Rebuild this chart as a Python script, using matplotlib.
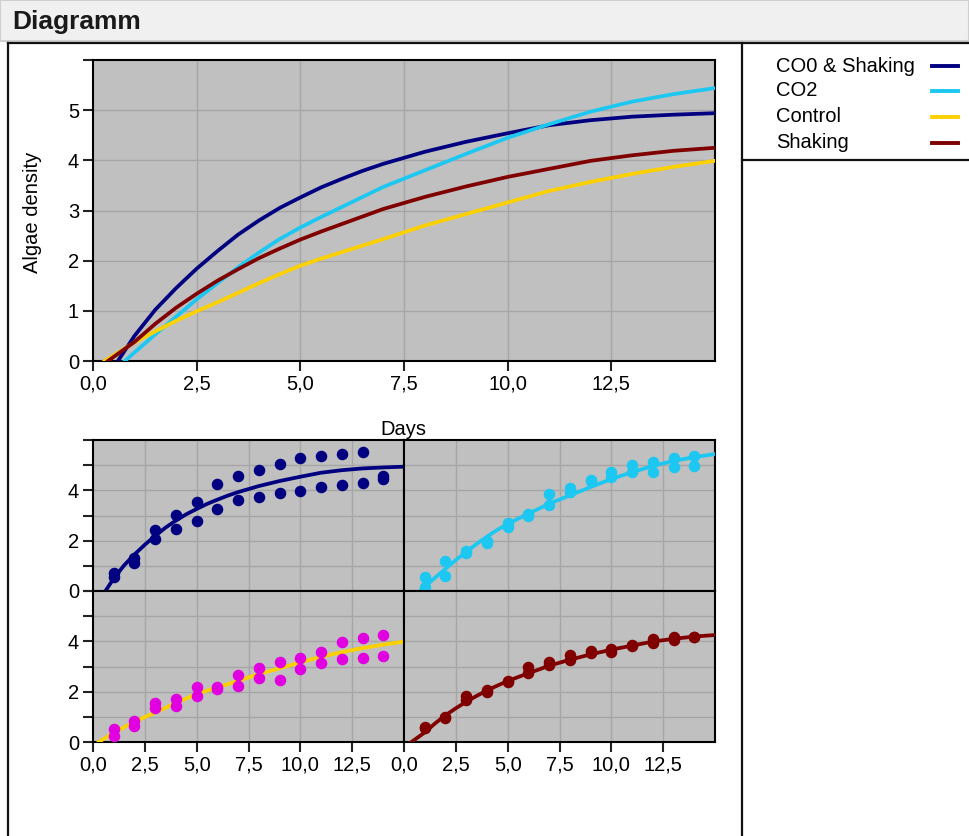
import matplotlib
matplotlib.use("Agg")
import matplotlib.pyplot as plt
from matplotlib.lines import Line2D
from matplotlib.patches import Rectangle
from matplotlib.ticker import FuncFormatter, MultipleLocator

plt.rcParams['font.family'] = ['Liberation Sans', 'DejaVu Sans']

# series names and colours
names = ["CO0 & Shaking", "CO2", "Control", "Shaking"]
line_colors = ["#000080", "#1cc8f2", "#fdd000", "#800000"]
dot_colors = ["#000080", "#1cc8f2", "#e000e0", "#800000"]

# fitted curves (days, density)
days_tail = [1, 1.5, 2, 2.5, 3, 3.5, 4, 4.5, 5, 5.5, 6, 6.5, 7, 8, 9, 10, 11, 12, 13, 14, 15]
curve_days = {
    "CO0 & Shaking": [0.60] + days_tail,
    "CO2": [0.77] + days_tail,
    "Control": [0.28] + days_tail,
    "Shaking": [0.36] + days_tail,
}
curve_vals = {
    "CO0 & Shaking": [0, 0.50, 1.02, 1.45, 1.84, 2.19, 2.52, 2.80, 3.05, 3.26, 3.46, 3.63, 3.79,
                      3.93, 4.17, 4.37, 4.54, 4.70, 4.80, 4.87, 4.91, 4.94],
    "CO2": [0, 0.17, 0.53, 0.88, 1.23, 1.55, 1.87, 2.16, 2.43, 2.66, 2.87, 3.07, 3.27,
            3.47, 3.80, 4.13, 4.45, 4.72, 4.97, 5.17, 5.32, 5.44],
    "Control": [0, 0.37, 0.59, 0.80, 0.99, 1.17, 1.36, 1.55, 1.73, 1.90, 2.04, 2.17, 2.30,
                2.43, 2.70, 2.93, 3.16, 3.39, 3.57, 3.73, 3.87, 3.99],
    "Shaking": [0, 0.38, 0.74, 1.06, 1.34, 1.60, 1.83, 2.05, 2.24, 2.42, 2.58, 2.73, 2.88,
                3.03, 3.27, 3.48, 3.67, 3.83, 3.99, 4.10, 4.19, 4.25],
}

# measured points, two replicates per day
obs_days = list(range(1, 15))
obs_a = {
    "CO0 & Shaking": [0.71, 1.31, 2.44, 3.01, 3.53, 4.24, 4.55, 4.80, 5.04, 5.27, 5.37, 5.44, 5.53, 4.57],
    "CO2": [0.57, 1.20, 1.60, 1.97, 2.71, 3.04, 3.87, 4.08, 4.40, 4.73, 5.00, 5.13, 5.27, 5.37],
    "Control": [0.51, 0.82, 1.54, 1.70, 2.17, 2.17, 2.66, 2.95, 3.18, 3.34, 3.58, 3.97, 4.13, 4.24],
    "Shaking": [0.60, 0.99, 1.84, 2.05, 2.44, 2.97, 3.16, 3.46, 3.62, 3.69, 3.86, 4.08, 4.19, 4.19],
}
obs_b = {
    "CO0 & Shaking": [0.57, 1.11, 2.07, 2.47, 2.77, 3.27, 3.60, 3.73, 3.91, 3.97, 4.15, 4.20, 4.28, 4.44],
    "CO2": [0.17, 0.61, 1.51, 1.91, 2.53, 3.00, 3.40, 3.93, 4.37, 4.51, 4.71, 4.73, 4.91, 4.97],
    "Control": [0.22, 0.62, 1.34, 1.43, 1.83, 2.10, 2.22, 2.53, 2.46, 2.92, 3.12, 3.28, 3.34, 3.42],
    "Shaking": [0.55, 0.95, 1.68, 2.00, 2.40, 2.76, 3.06, 3.26, 3.55, 3.59, 3.82, 3.92, 4.06, 4.16],
}

x_ticks = [0, 2.5, 5, 7.5, 10, 12.5]

W, H = 969, 836
fig = plt.figure(figsize=(W / 100, H / 100), dpi=100)
fig.patch.set_facecolor("white")
FS = 14.5


def box(l, t, r, b):
    # pixel box -> figure fraction rect
    return [l / W, 1 - b / H, (r - l) / W, (b - t) / H]


def comma(v, pos):
    return f"{v:.1f}".replace(".", ",")


def style_ax(ax, show_x, show_y, y_major):
    ax.set_facecolor("#c0c0c0")
    ax.set_xlim(0, 15)
    ax.set_ylim(0, 6)
    ax.set_xticks(x_ticks)
    ax.xaxis.set_major_formatter(FuncFormatter(comma))
    ax.yaxis.set_major_locator(MultipleLocator(y_major))
    ax.yaxis.set_minor_locator(MultipleLocator(1))
    ax.yaxis.set_major_formatter(FuncFormatter(lambda v, p: f"{v:g}" if v < 5.9 else ""))
    # grid every 2.5 days and every unit
    for gx in x_ticks[1:]:
        ax.axvline(gx, color="#a6a6a6", lw=1.0, zorder=0.5)
    for gy in range(1, 6):
        ax.axhline(gy, color="#a6a6a6", lw=1.0, zorder=0.5)
    for s in ax.spines.values():
        s.set_color("black")
        s.set_linewidth(1.5)
    ax.tick_params(axis="both", which="both", direction="out", length=7, width=1.5,
                   color="#222222", labelsize=FS, pad=3)
    if not show_x:
        ax.tick_params(axis="x", which="both", length=0, labelbottom=False)
    if not show_y:
        ax.tick_params(axis="y", which="both", length=0, labelleft=False)


# main plot
ax = fig.add_axes(box(93, 60, 715, 361))
style_ax(ax, True, True, 1)
ax.tick_params(axis="y", which="minor", length=0)
for n, c in zip(names, line_colors):
    ax.plot(curve_days[n], curve_vals[n], color=c, lw=2.7, solid_joinstyle="round", zorder=3)

fig.text(33 / W, 1 - 212 / H, "Algae density", rotation=90, ha="center", va="center", fontsize=FS)
fig.text(403 / W, 1 - 430 / H, "Days", ha="center", va="center", fontsize=FS)

# small panels
panel_boxes = [box(93, 440, 404, 591), box(404, 440, 715, 591),
               box(93, 591, 404, 742), box(404, 591, 715, 742)]
for i, n in enumerate(names):
    pax = fig.add_axes(panel_boxes[i])
    style_ax(pax, i >= 2, i % 2 == 0, 2)
    pax.plot(curve_days[n], curve_vals[n], color=line_colors[i], lw=2.7,
             solid_joinstyle="round", zorder=3)
    pax.plot(obs_days, obs_a[n], "o", color=dot_colors[i], ms=7.3, zorder=4, clip_on=False)
    pax.plot(obs_days, obs_b[n], "o", color=dot_colors[i], ms=7.3, zorder=4, clip_on=False)

# header bar and frame
fig.add_artist(Rectangle((0, 1 - 41 / H), 1, 41 / H, transform=fig.transFigure,
                         facecolor="#f0f0f0", edgecolor="#cfcfcf", lw=1.5))
fig.text(12 / W, 1 - 22 / H, "Diagramm", fontsize=19, fontweight="bold",
         ha="left", va="center", color="#1a1a1a")
frame_kw = dict(transform=fig.transFigure, color="#111111", lw=1.6)
fig.add_artist(Line2D([8 / W, 1], [1 - 43 / H, 1 - 43 / H], **frame_kw))
fig.add_artist(Line2D([8 / W, 8 / W], [1 - 43 / H, 0], **frame_kw))
fig.add_artist(Line2D([742 / W, 742 / W], [1 - 43 / H, 0], **frame_kw))
fig.add_artist(Line2D([742 / W, 1], [1 - 160 / H, 1 - 160 / H], **frame_kw))

# legend
leg_y = [66, 91, 117, 143]
for n, c, y in zip(names, line_colors, leg_y):
    fig.text(776 / W, 1 - y / H, n, ha="left", va="center", fontsize=FS)
    fig.add_artist(Line2D([932 / W, 958 / W], [1 - y / H, 1 - y / H],
                          transform=fig.transFigure, color=c, lw=2.8))

fig.savefig("out.png", dpi=100)
